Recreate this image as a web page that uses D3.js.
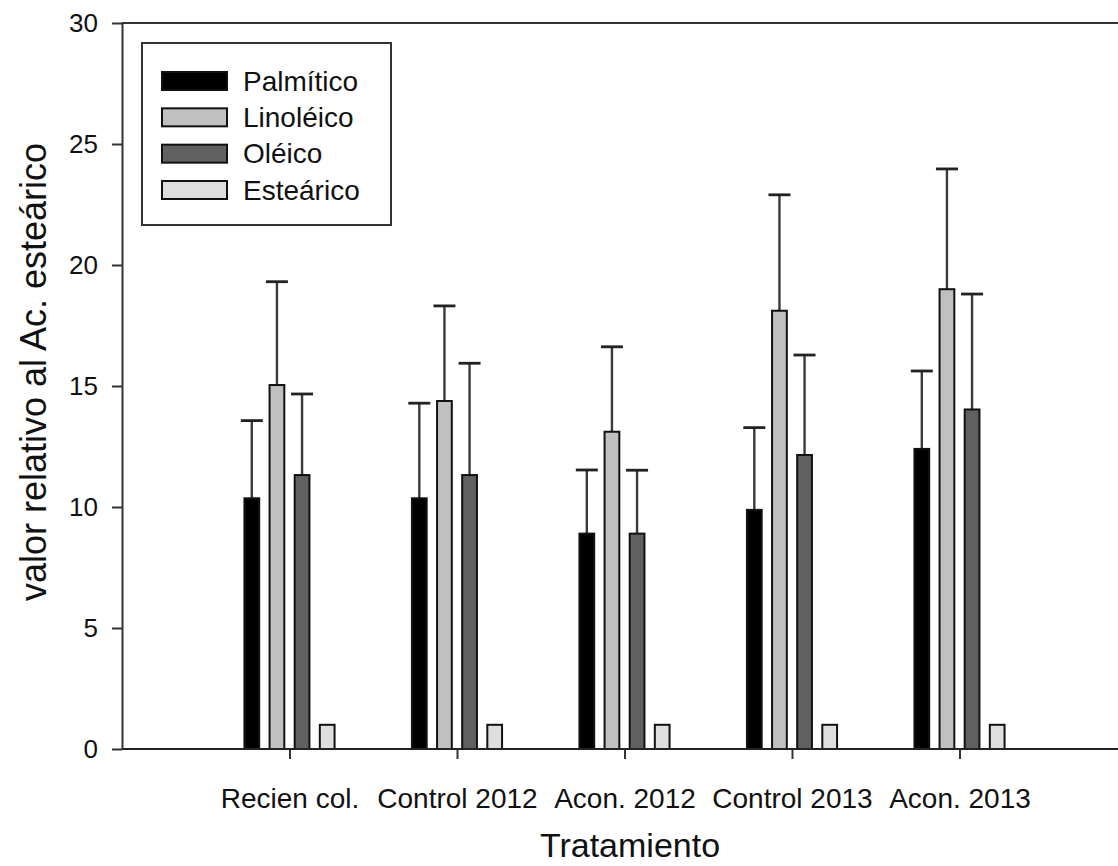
<!DOCTYPE html>
<html>
<head>
<meta charset="utf-8">
<script src="https://cdn.jsdelivr.net/npm/d3@7"></script>
<style>
  html, body { margin: 0; padding: 0; background: #fff; }
  svg { display: block; font-family: "Liberation Sans", Arial, sans-serif; }
</style>
</head>
<body>
<div id="chart"></div>
<script>
// Datos
const categories = ["Recien col.", "Control 2012", "Acon. 2012", "Control 2013", "Acon. 2013"];
const seriesNames = ["Palmítico", "Linoléico", "Oléico", "Esteárico"];

const palmitico    = [10.36, 10.36, 8.90, 9.88, 12.40];
const palmiticoErr = [3.21, 3.93, 2.63, 3.40, 3.22];
const linoleico    = [15.04, 14.38, 13.11, 18.11, 19.00];
const linoleicoErr = [4.27, 3.93, 3.51, 4.79, 4.97];
const oleico       = [11.32, 11.32, 8.90, 12.15, 14.03];
const oleicoErr    = [3.35, 4.62, 2.62, 4.13, 4.77];
const estearico    = [1, 1, 1, 1, 1];
const estearicoErr = [0, 0, 0, 0, 0];

const yTicks = [0, 5, 10, 15, 20, 25, 30];

const seriesValues = [palmitico, linoleico, oleico, estearico];
const seriesErrors = [palmiticoErr, linoleicoErr, oleicoErr, estearicoErr];
const colors = ["#000000", "#c0c0c0", "#606060", "#dedede"];

const width = 1118, height = 866;
const margin = { top: 23, left: 122, bottom: 117 };
const plotBottom = height - margin.bottom;

const svg = d3.select("#chart").append("svg")
    .attr("width", width)
    .attr("height", height);

// Escala x: categorías en 1..5 dentro de un dominio 0..6
const x = d3.scaleLinear()
    .domain([0, categories.length + 1])
    .range([margin.left, 1127]);
const unit = x(1) - x(0);

const xSub = d3.scaleBand()
    .domain(seriesNames)
    .range([-0.3 * unit, 0.3 * unit])
    .paddingInner(1 / 3)
    .paddingOuter(1 / 6);

const y = d3.scaleLinear()
    .domain([0, 30])
    .range([plotBottom, margin.top]);

// Datos planos para las barras
const rows = [];
categories.forEach((c, i) => {
    seriesNames.forEach((s, j) => {
        rows.push({ cat: c, idx: i, series: s, sj: j,
                    value: seriesValues[j][i], err: seriesErrors[j][i] });
    });
});

// Barras de error (solo hacia arriba)
const errG = svg.append("g");
rows.filter(d => d.err > 0).forEach(d => {
    const cx = x(d.idx + 1) + xSub(d.series) + xSub.bandwidth() / 2;
    errG.append("line")
        .attr("x1", cx).attr("x2", cx)
        .attr("y1", y(d.value)).attr("y2", y(d.value + d.err))
        .attr("stroke", "#3a3a3a").attr("stroke-width", 2.4);
    errG.append("line")
        .attr("x1", cx - 11).attr("x2", cx + 11)
        .attr("y1", y(d.value + d.err)).attr("y2", y(d.value + d.err))
        .attr("stroke", "#222").attr("stroke-width", 2.8);
});

// Barras
svg.append("g").selectAll("rect")
    .data(rows)
    .enter()
    .append("rect")
    .attr("x", d => x(d.idx + 1) + xSub(d.series) + 1)
    .attr("y", d => y(d.value))
    .attr("width", xSub.bandwidth() - 2)
    .attr("height", d => plotBottom - y(d.value))
    .attr("fill", d => colors[d.sj])
    .attr("stroke", "#111")
    .attr("stroke-width", 2);

// Eje Y
const yAxis = svg.append("g")
    .attr("transform", `translate(${margin.left},0)`)
    .call(d3.axisLeft(y).tickValues(yTicks).tickSize(10).tickSizeOuter(0).tickPadding(14));
yAxis.select(".domain").attr("stroke", "#333").attr("stroke-width", 2);
yAxis.selectAll(".tick line").attr("stroke", "#333").attr("stroke-width", 2);
yAxis.selectAll(".tick text")
    .attr("font-size", 26)
    .attr("font-family", "'Liberation Sans', Arial, sans-serif")
    .attr("fill", "#111");

// Eje X
const xAxis = svg.append("g")
    .attr("transform", `translate(0,${plotBottom})`)
    .call(d3.axisBottom(x)
        .tickValues(categories.map((c, i) => i + 1))
        .tickFormat(v => categories[v - 1])
        .tickSize(10).tickSizeOuter(0).tickPadding(29));
xAxis.select(".domain").attr("d", `M${margin.left},0H${width}`)
    .attr("stroke", "#222").attr("stroke-width", 2);
xAxis.selectAll(".tick line").attr("stroke", "#333").attr("stroke-width", 2);
xAxis.selectAll(".tick text")
    .attr("font-size", 28)
    .attr("font-family", "'Liberation Sans', Arial, sans-serif")
    .attr("fill", "#111");

// Línea superior del marco
svg.append("line")
    .attr("x1", margin.left).attr("x2", width)
    .attr("y1", margin.top).attr("y2", margin.top)
    .attr("stroke", "#333").attr("stroke-width", 2);

// Títulos de ejes
svg.append("text")
    .attr("x", 630)
    .attr("y", 857)
    .attr("text-anchor", "middle")
    .attr("font-size", 34)
    .attr("fill", "#111")
    .text("Tratamiento");

svg.append("text")
    .attr("transform", `translate(46,372) rotate(-90)`)
    .attr("text-anchor", "middle")
    .attr("font-size", 36)
    .attr("fill", "#111")
    .text("valor relativo al Ac. esteárico");

// Leyenda
const legend = svg.append("g");
legend.append("rect")
    .attr("x", 142).attr("y", 43)
    .attr("width", 249).attr("height", 182)
    .attr("fill", "#fff")
    .attr("stroke", "#333").attr("stroke-width", 2);

const legendRowY = d3.scalePoint()
    .domain(seriesNames)
    .range([81, 190]);

seriesNames.forEach((s, j) => {
    const cy = legendRowY(s);
    legend.append("rect")
        .attr("x", 162).attr("y", cy - 9)
        .attr("width", 65).attr("height", 18)
        .attr("fill", colors[j])
        .attr("stroke", "#111").attr("stroke-width", 2);
    legend.append("text")
        .attr("x", 243).attr("y", cy)
        .attr("dy", "0.35em")
        .attr("font-size", 28)
        .attr("fill", "#111")
        .text(s);
});
</script>
</body>
</html>
